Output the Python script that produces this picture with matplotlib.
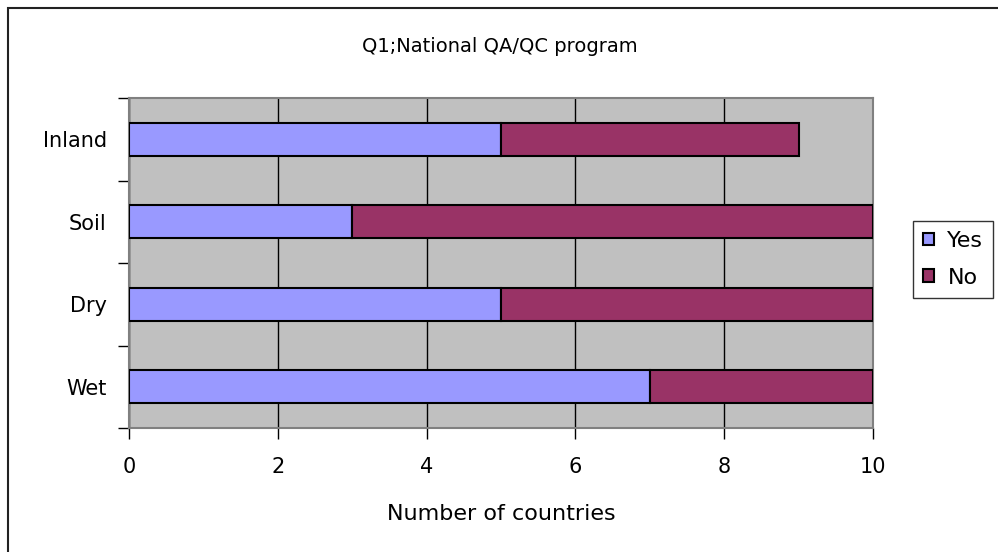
import matplotlib
matplotlib.use("Agg")
import matplotlib.pyplot as plt
from matplotlib.patches import Rectangle
import numpy as np

categories = ["Wet", "Dry", "Soil", "Inland"]
yes_values = [7, 5, 3, 5]
no_values = [3, 5, 7, 4]
series_names = ["Yes", "No"]
x_ticks = [0, 2, 4, 6, 8, 10]

plt.rcParams['font.family'] = ['DejaVu Sans']

W, H = 998, 552
fig = plt.figure(figsize=(W / 100, H / 100), dpi=100)
fig.patch.set_facecolor("white")

# outer chart frame (clipped at right and bottom)
fig.patches.append(Rectangle((8 / W, -0.05), 1.2, 1 - 8 / H + 0.05, transform=fig.transFigure,
                             fill=False, edgecolor="#222222", linewidth=1.5))

left, right, top, bottom = 129, 873, 98, 428
ax = fig.add_axes([left / W, 1 - bottom / H, (right - left) / W, (bottom - top) / H])
ax.set_facecolor("#C0C0C0")

y = np.arange(len(categories))
h = 0.4
ax.barh(y, yes_values, height=h, color="#9999FF", edgecolor="black", linewidth=1.5, label=series_names[0], zorder=3)
ax.barh(y, no_values, left=yes_values, height=h, color="#993366", edgecolor="black", linewidth=1.5, label=series_names[1], zorder=3)

ax.set_xlim(0, 10)
ax.set_ylim(-0.5, len(categories) - 0.5)
ax.set_xticks(x_ticks)
ax.set_xticklabels([str(t) for t in x_ticks], fontsize=15)
ax.set_yticks(y)
ax.set_yticklabels(categories, fontsize=15)
ax.tick_params(axis='y', length=0, pad=16)
ax.set_yticks(np.arange(-0.5, len(categories), 1), minor=True)
ax.tick_params(axis='y', which='minor', length=8, width=1, color="black")
ax.tick_params(axis='x', length=8, width=1, color="black", pad=13)
ax.grid(axis='x', color="black", linewidth=1, zorder=1)

for s in ax.spines.values():
    s.set_color("#808080")
    s.set_linewidth(1.5)

ax.set_xlabel("Number of countries", fontsize=16, labelpad=19)
fig.text(500 / W, 1 - 47 / H, "Q1;National QA/QC program", fontsize=14, ha="center", va="center")

handles, labels = ax.get_legend_handles_labels()
leg = fig.legend(handles, labels, loc="upper left", bbox_to_anchor=(913 / W, 1 - 221 / H),
                 bbox_transform=fig.transFigure, fontsize=16, frameon=True, fancybox=False,
                 edgecolor="black", handlelength=0.5, handleheight=0.5, handletextpad=0.6,
                 borderpad=0.45, labelspacing=0.75, borderaxespad=0)
leg.get_frame().set_linewidth(1)

fig.savefig("out.png", dpi=100)
